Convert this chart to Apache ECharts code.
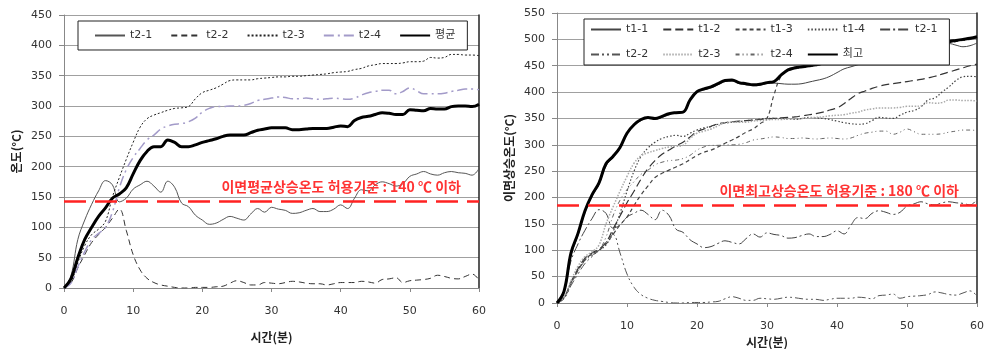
<!DOCTYPE html>
<html>
<head>
<meta charset="utf-8">
<script src="https://cdn.jsdelivr.net/npm/echarts@6/dist/echarts.min.js"></script>
<style>
  html, body { margin: 0; padding: 0; background: #fff; }
  #chart { width: 984px; height: 349px; }
</style>
</head>
<body>
<div id="chart"></div>
<script>
// 시간(분)
const minutes = [0,1,2,3,4,5,6,7,8,9,10,11,12,13,14,15,16,17,18,19,20,21,22,23,24,25,26,27,28,29,30,
  31,32,33,34,35,36,37,38,39,40,41,42,43,44,45,46,47,48,49,50,51,52,53,54,55,56,57,58,59,60];

// t2 계열 (두 그래프 공통)
const t2_1 = [0,20,80,112,138,160,177,170,142,148,163,170,176,168,158,176,166,140,134,120,112,105,107,113,118,115,112,122,131,125,133,
  130,128,123,124,128,131,126,126,130,137,131,148,162,160,170,175,172,168,172,184,188,192,188,186,190,192,190,189,186,197];
const t2_2 = [0,8,33,55,75,88,100,115,130,95,55,30,16,9,5,3,1,0,0,1,1,1,2,3,8,12,9,5,5,9,8,
  7,9,11,10,8,7,7,5,7,9,9,9,11,10,8,14,15,17,9,12,13,14,16,21,19,16,15,19,23,13];
const t2_3 = [0,10,42,70,88,97,110,150,182,212,240,265,279,285,289,293,296,297,299,312,322,326,330,336,342,343,343,343,345,346,347,
  348,348,349,349,350,351,352,353,355,356,357,360,362,366,368,370,370,370,371,373,373,374,380,379,380,385,385,384,384,383];
const t2_4 = [0,8,35,60,80,90,100,125,165,195,215,230,244,252,262,267,270,271,274,280,290,296,299,299,300,300,301,304,309,311,313,
  315,314,312,312,313,312,311,312,313,312,311,313,318,322,324,326,326,320,324,330,325,320,320,320,321,324,326,328,328,327];
const avg = [0,15,50,80,100,118,132,148,155,165,188,210,225,233,233,244,240,233,233,236,240,243,246,250,252,252,252,256,260,262,264,
  264,264,261,261,262,263,263,263,265,267,266,276,281,283,286,289,288,286,286,294,293,292,296,295,295,299,300,300,299,303];

// t1 계열과 최고 (오른쪽 그래프)
const t1_1 = [0,20,90,128,172,202,225,260,276,293,320,336,346,350,349,352,357,360,361,384,399,404,408,414,420,421,416,414,412,413,416,
  417,416,415,415,416,419,422,425,430,437,444,448,452,456,460,464,467,470,473,476,479,482,485,488,491,492,489,486,488,493];
const t1_2 = [0,10,40,65,85,95,102,115,140,165,190,212,235,255,270,282,290,298,305,315,325,330,335,340,342,344,345,346,347,348,349,
  350,351,352,353,355,357,359,362,366,370,378,388,397,402,407,411,414,416,418,420,422,424,427,430,434,438,442,446,450,453];
const t1_3 = [0,10,38,62,82,93,100,112,130,148,163,185,205,222,238,246,252,258,264,272,280,286,290,296,303,309,316,324,330,340,350,
  395,430,440,444,446,448,450,453,456,458,460,462,464,466,469,472,475,478,480,483,486,488,490,492,493,494,496,498,500,503];
const t1_4 = [0,10,38,62,82,92,100,110,135,170,212,250,278,294,305,312,316,318,316,322,328,332,335,339,341,343,344,346,347,349,350,
  350,350,349,348,350,352,351,350,348,345,342,340,339,340,346,352,351,350,356,362,365,372,385,389,400,410,422,429,430,429];
const peak = [0,22,95,132,175,205,228,264,278,295,322,338,348,352,350,354,359,361,362,385,401,406,410,416,422,423,418,416,414,415,418,
  420,432,442,446,448,450,452,455,458,460,462,464,466,468,471,474,477,480,482,485,488,490,492,494,495,496,498,500,502,505];

// 허용기준선
const limitLeft = 143;
const limitRight = 185;
const limitLeftText = '이면평균상승온도 허용기준 : 140 ℃ 이하';
const limitRightText = '이면최고상승온도 허용기준 : 180 ℃ 이하';

const NUM = "'DejaVu Sans', 'Noto Sans CJK KR', sans-serif";
const KR = "'Noto Sans CJK KR', sans-serif";

function pairs(vals) {
  return minutes.map((m, i) => [m, vals[i]]);
}

function line(name, vals, gi, color, width, type) {
  return {
    name: name,
    type: 'line',
    xAxisIndex: gi,
    yAxisIndex: gi * 2,
    data: pairs(vals),
    smooth: 0.4,
    symbol: 'none',
    showSymbol: false,
    lineStyle: { color: color, width: width, type: type },
    // 범례 아이콘의 동그라미 숨김
    itemStyle: { color: color, opacity: 0 },
    emphasis: { disabled: true }
  };
}

function limitLine(value, text) {
  return {
    silent: true,
    symbol: ['none', 'none'],
    lineStyle: { color: '#ff2222', width: 2.5, type: [22, 9], opacity: 1 },
    itemStyle: { opacity: 1 },
    label: {
      position: 'insideEndTop',
      formatter: text,
      color: '#ff3333',
      fontSize: 14,
      fontWeight: 'bold',
      fontFamily: KR,
      distance: [18, 8]
    },
    data: [{ yAxis: value }]
  };
}

function xAx(gi, gap) {
  return {
    gridIndex: gi, type: 'value', min: 0, max: 60, interval: 10,
    name: '시간(분)', nameLocation: 'middle', nameGap: gap,
    nameTextStyle: { fontFamily: KR, fontSize: 12, fontWeight: 'bold', color: '#222' },
    axisLine: { show: true, lineStyle: { color: '#888' } },
    axisTick: { show: true, length: 4, lineStyle: { color: '#888' } },
    axisLabel: { margin: 18, fontFamily: NUM, fontSize: 11, color: '#333' },
    splitLine: { show: false }
  };
}

function yAx(gi, max, name) {
  return {
    gridIndex: gi, type: 'value', min: 0, max: max, interval: 50,
    name: name, nameLocation: 'middle', nameGap: 42,
    nameTextStyle: { fontFamily: KR, fontSize: 12, fontWeight: 'bold', color: '#222' },
    axisLine: { show: true, lineStyle: { color: '#888' } },
    axisTick: { show: true, length: 5, lineStyle: { color: '#888' } },
    axisLabel: { margin: 12, fontFamily: NUM, fontSize: 11, color: '#333' },
    splitLine: { show: true, lineStyle: { color: '#a0a0a0', width: 1 } }
  };
}

// 오른쪽 테두리용 축
function borderAx(gi, max) {
  return {
    gridIndex: gi, type: 'value', min: 0, max: max, position: 'right',
    axisLine: { show: true, lineStyle: { color: '#222', width: 1.5 } },
    axisTick: { show: false }, axisLabel: { show: false }, splitLine: { show: false }
  };
}

const legendBase = {
  backgroundColor: '#fff',
  borderColor: '#222',
  borderWidth: 1,
  borderRadius: 0,
  itemWidth: 30,
  itemHeight: 11,
  itemGap: 18,
  textStyle: { fontFamily: NUM, fontSize: 11, color: '#333' }
};

const chart = echarts.init(document.getElementById('chart'));
chart.setOption({
  animation: false,
  backgroundColor: '#fff',
  grid: [
    { left: 64, top: 15, width: 415, height: 273, outerBoundsMode: 'none' },
    { left: 557, top: 13, width: 420, height: 290, outerBoundsMode: 'none' }
  ],
  xAxis: [xAx(0, 43), xAx(1, 31)],
  yAxis: [
    yAx(0, 450, '온도(°C)'), borderAx(0, 450),
    yAx(1, 550, '이면상승온도(°C)'), borderAx(1, 550)
  ],
  legend: [
    Object.assign({}, legendBase, {
      left: 78, top: 21,
      padding: [9, 12, 9, 16],
      data: ['t2-1', 't2-2', 't2-3', 't2-4', '평균']
    }),
    Object.assign({}, legendBase, {
      left: 584, top: 19,
      width: 360,
      itemGap: 14,
      itemHeight: 12,
      padding: [5, 12, 5, 6],
      formatter: n => n.replace('R:', ''),
      data: ['R:t1-1', 'R:t1-2', 'R:t1-3', 'R:t1-4', 'R:t2-1', 'R:t2-2', 'R:t2-3', 'R:t2-4', 'R:최고']
    })
  ],
  series: [
    line('t2-1', t2_1, 0, '#555', 1, 'solid'),
    line('t2-2', t2_2, 0, '#333', 1, [6, 4]),
    line('t2-3', t2_3, 0, '#222', 1, [2, 2]),
    line('t2-4', t2_4, 0, '#a39bc9', 1.5, [10, 4, 2, 4]),
    Object.assign(line('평균', avg, 0, '#000', 3, 'solid'), { markLine: limitLine(limitLeft, limitLeftText) }),

    line('R:t1-1', t1_1, 1, '#444', 1, 'solid'),
    line('R:t1-2', t1_2, 1, '#333', 1.2, [8, 4]),
    line('R:t1-3', t1_3, 1, '#444', 1.2, [4, 3]),
    line('R:t1-4', t1_4, 1, '#444', 1.2, [1.5, 2]),
    line('R:t2-1', t2_1, 1, '#444', 1, [10, 3, 2, 3]),
    line('R:t2-2', t2_2, 1, '#555', 1, [8, 3, 2, 3, 2, 3]),
    line('R:t2-3', t2_3, 1, '#aaa', 1.5, [1.5, 1.5]),
    line('R:t2-4', t2_4, 1, '#666', 1, [4, 3, 1, 3, 1, 3]),
    Object.assign(line('R:최고', peak, 1, '#000', 3, 'solid'), { markLine: limitLine(limitRight, limitRightText) })
  ]
});
</script>
</body>
</html>
